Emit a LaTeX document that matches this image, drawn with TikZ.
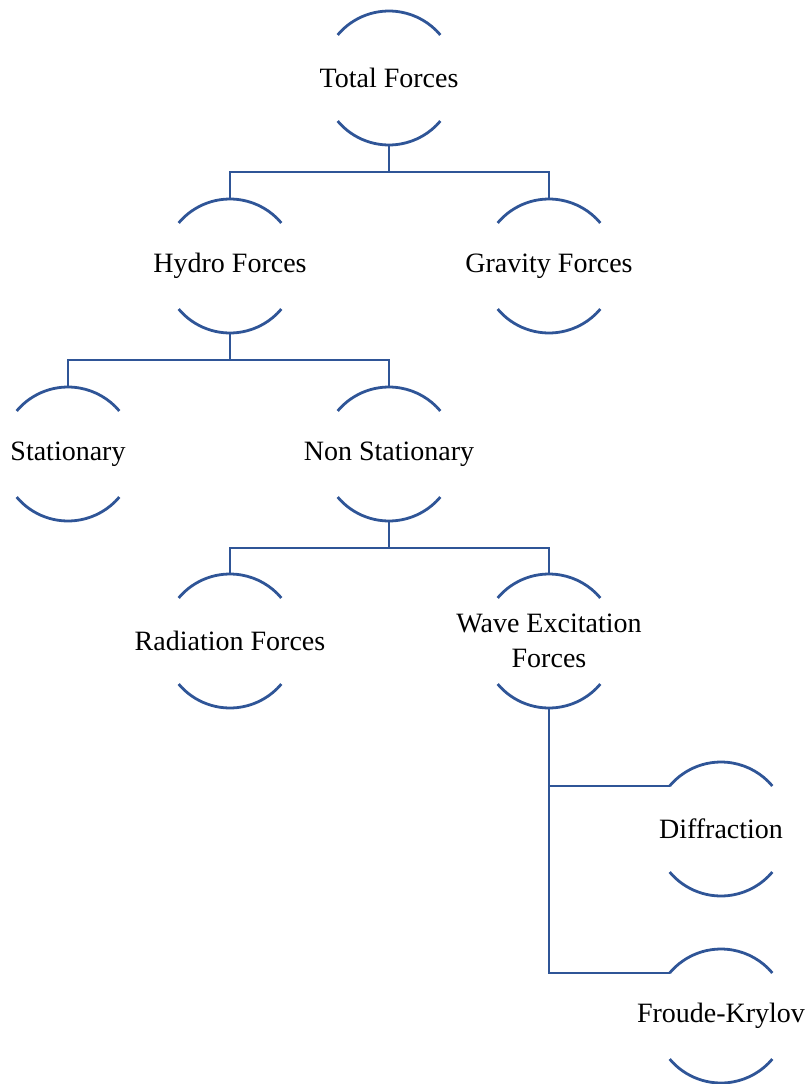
\documentclass[tikz,border=0pt]{standalone}
\usepackage{fontspec}
\setmainfont{Liberation Serif}
\definecolor{linkblue}{RGB}{47,85,151}
\begin{document}
\begin{tikzpicture}[x=1pt,y=1pt,
  circ/.style={circle,minimum size=134pt,inner sep=0pt,outer sep=0pt},
  lbl/.style={font=\fontsize{28}{35}\selectfont,align=center,text=black,inner sep=0pt},
  arcs/.style={draw=linkblue,line width=2.8pt},
  conn/.style={draw=linkblue,line width=2.8pt}]
\useasboundingbox (0,0) rectangle (808,-1084);
\node[circ] (tf) at (389,-78) {};
\node[circ] (hf) at (230,-266) {};
\node[circ] (gf) at (549,-266) {};
\node[circ] (st) at (68,-454) {};
\node[circ] (ns) at (389,-454) {};
\node[circ] (rf) at (230,-641) {};
\node[circ] (we) at (549,-641) {};
\node[circ] (df) at (721,-829) {};
\node[circ] (fk) at (721,-1016) {};
\node[lbl] (tft) at (tf) {Total Forces};
\node[lbl] (hft) at (hf) {Hydro Forces};
\node[lbl] (gft) at (gf) {Gravity Forces};
\node[lbl] (stt) at (st) {Stationary};
\node[lbl] (nst) at (ns) {Non Stationary};
\node[lbl] (rft) at (rf) {Radiation Forces};
\node[lbl] (wet) at (we) {Wave Excitation\\Forces};
\node[lbl] (dft) at (df) {Diffraction};
\node[lbl] (fkt) at (fk) {Froude-Krylov};
\foreach \n in {tf,hf,gf,st,ns,rf,we,df,fk}{
  \draw[arcs] (\n.140) arc[start angle=140,end angle=40,radius=67pt];
  \draw[arcs] (\n.220) arc[start angle=220,end angle=320,radius=67pt];
}
\draw[conn] (tf.south) -- ++(0,-27) -| (hf.north);
\draw[conn] (tf.south) -- ++(0,-27) -| (gf.north);
\draw[conn] (hf.south) -- ++(0,-27) -| (st.north);
\draw[conn] (hf.south) -- ++(0,-27) -| (ns.north);
\draw[conn] (ns.south) -- ++(0,-27) -| (rf.north);
\draw[conn] (ns.south) -- ++(0,-27) -| (we.north);
\draw[conn] (we.south) |- (df.140);
\draw[conn] (we.south) |- (fk.140);
\end{tikzpicture}
\end{document}
